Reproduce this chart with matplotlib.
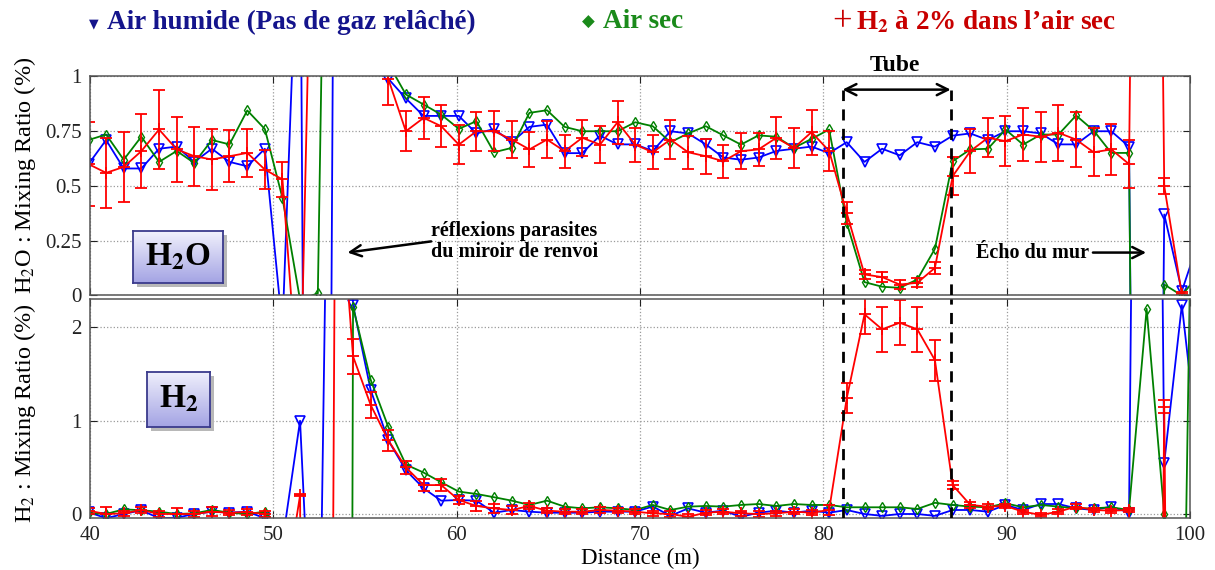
import numpy as np
import matplotlib
matplotlib.use("Agg")
import matplotlib.pyplot as plt
from matplotlib.colors import LinearSegmentedColormap

plt.rcParams['font.family'] = ['Liberation Serif', 'DejaVu Serif']
plt.rcParams['mathtext.fontset'] = 'stix'

# range bins (m)
distance = [39.91, 40.87, 41.83, 42.79, 43.76, 44.72, 45.68, 46.64, 47.60, 48.57,
            49.53, 50.49, 51.45, 52.42, 53.38, 54.34, 55.30, 56.26, 57.22, 58.19,
            59.15, 60.11, 61.07, 62.03, 63.00, 63.96, 64.92, 65.88, 66.84, 67.81,
            68.77, 69.73, 70.69, 71.65, 72.62, 73.58, 74.54, 75.50, 76.46, 77.43,
            78.39, 79.35, 80.31, 81.27, 82.24, 83.20, 84.16, 85.12, 86.08, 87.05,
            88.01, 88.97, 89.93, 90.89, 91.86, 92.82, 93.78, 94.74, 95.70, 96.67,
            97.63, 98.59, 99.55, 100.51]

# H2O mixing ratio (%)
h2o_humide = [0.60, 0.71, 0.58, 0.58, 0.67, 0.68, 0.61, 0.67, 0.61, 0.59,
              0.67, -0.15, 2.0, -11, 3.2, 2.0, 1.5, 0.99, 0.90, 0.82,
              0.82, 0.82, 0.74, 0.76, 0.70, 0.77, 0.78, 0.65, 0.65, 0.73,
              0.69, 0.69, 0.66, 0.75, 0.74, 0.69, 0.63, 0.62, 0.63, 0.66,
              0.67, 0.68, 0.65, 0.70, 0.61, 0.67, 0.64, 0.70, 0.68, 0.73,
              0.74, 0.71, 0.75, 0.75, 0.74, 0.69, 0.69, 0.75, 0.75, 0.68,
              -8, 0.37, 0.02, 0.26]
h2o_sec = [0.71, 0.735, 0.62, 0.725, 0.61, 0.66, 0.605, 0.71, 0.69, 0.845,
           0.76, 0.445, -0.02, 0.01, 5.0, 3.0, 2.0, 1.06, 0.918, 0.872,
           0.826, 0.761, 0.796, 0.654, 0.674, 0.834, 0.846, 0.770, 0.750, 0.750,
           0.750, 0.791, 0.773, 0.700, 0.740, 0.773, 0.731, 0.689, 0.731, 0.725,
           0.674, 0.715, 0.758, 0.332, 0.061, 0.040, 0.035, 0.073, 0.213, 0.613,
           0.667, 0.670, 0.758, 0.689, 0.735, 0.735, 0.822, 0.753, 0.651, 0.651,
           -8, 0.05, 0.0, 0.10]
h2o_h2 = [0.60, 0.56, 0.587, 0.659, 0.758, 0.667, 0.636, 0.621, 0.636, 0.651,
          0.575, 0.53, -0.55, 3.1, 3.0, 2.0, 1.5, 0.99, 0.75, 0.811,
          0.773, 0.689, 0.750, 0.750, 0.712, 0.667, 0.712, 0.659, 0.720, 0.689,
          0.791, 0.689, 0.654, 0.712, 0.654, 0.636, 0.613, 0.659, 0.667, 0.720,
          0.674, 0.746, 0.66, 0.377, 0.096, 0.084, 0.050, 0.058, 0.126, 0.545,
          0.659, 0.720, 0.705, 0.735, 0.725, 0.743, 0.712, 0.654, 0.667, 0.60,
          8.0, 0.50, 0.005, -0.3]
h2o_h2_err = [0.19, 0.16, 0.16, 0.17, 0.18, 0.15, 0.135, 0.14, 0.12, 0.11,
              0.09, 0.08, 0.08, 0.1, 0.1, 0.1, 0.1, 0.12, 0.092, 0.097,
              0.097, 0.089, 0.089, 0.091, 0.084, 0.08, 0.086, 0.075, 0.082, 0.084,
              0.099, 0.078, 0.078, 0.088, 0.076, 0.079, 0.076, 0.082, 0.076, 0.095,
              0.092, 0.103, 0.09, 0.05, 0.02, 0.023, 0.02, 0.02, 0.028, 0.086,
              0.10, 0.089, 0.115, 0.12, 0.114, 0.127, 0.127, 0.11, 0.116, 0.11,
              0.1, 0.035, 0.01, 0.05]

# H2 mixing ratio (%)
h2_humide = [0.02, -0.045, 0.0, 0.04, -0.045, -0.04, 0.0, 0.025, 0.015, 0.025,
             -0.045, -0.3, 1.0, -3, 10, 2.24, 1.33, 0.79, 0.47, 0.275,
             0.143, 0.15, 0.143, 0.014, 0.043, 0.025, 0.014, 0.014, 0.014, 0.025,
             0.025, 0.025, 0.08, -0.02, 0.06, 0.014, 0.036, -0.03, 0.014, 0.036,
             0.014, 0.036, 0.014, 0.043, 0.0, -0.02, 0.0, 0.0, -0.02, 0.043,
             0.043, 0.025, 0.097, 0.043, 0.107, 0.107, 0.061, 0.043, 0.079, 0.014,
             20, 0.55, 2.24, 0.58]
h2_sec = [0.01, 0.0, 0.05, 0.04, 0.025, 0.0, 0.007, 0.043, 0.014, 0.0,
          0.025, -0.2, -0.5, -1.0, -60, 2.22, 1.44, 0.935, 0.53, 0.444,
          0.34, 0.24, 0.215, 0.18, 0.143, 0.097, 0.143, 0.079, 0.061, 0.072,
          0.061, 0.043, 0.097, 0.043, 0.079, 0.086, 0.079, 0.097, 0.107, 0.086,
          0.107, 0.097, 0.097, 0.072, 0.072, 0.072, 0.072, 0.054, 0.12, 0.097,
          0.079, 0.072, 0.115, 0.072, 0.097, 0.079, 0.061, 0.061, 0.072, 0.043,
          2.2, 0.0, -3, 9]
h2_h2 = [0.035, 0.0, 0.007, 0.043, 0.0, 0.0, 0.0, 0.025, 0.014, 0.02,
         0.0, -1.0, 0.2, -30, 4.2, 1.69, 1.17, 0.79, 0.50, 0.31,
         0.31, 0.15, 0.086, 0.06, 0.043, 0.086, 0.036, 0.025, 0.025, 0.043,
         0.036, 0.025, 0.007, 0.0, -0.03, 0.014, 0.025, 0.007, 0.0, 0.007,
         0.025, 0.014, 0.043, 1.24, 2.14, 1.98, 2.05, 1.98, 1.65, 0.31,
         0.097, 0.079, 0.086, 0.025, -0.01, 0.025, 0.079, 0.043, 0.036, 0.043,
         -20, 1.15, -20, -20]
h2_h2_err = [0.03, 0.07, 0.03, 0.03, 0.03, 0.06, 0.03, 0.05, 0.03, 0.03,
             0.03, 0.03, 0.01, 0.05, 0.1, 0.19, 0.14, 0.11, 0.07, 0.06,
             0.06, 0.045, 0.05, 0.05, 0.04, 0.036, 0.03, 0.03, 0.03, 0.03,
             0.03, 0.03, 0.03, 0.03, 0.03, 0.03, 0.03, 0.03, 0.03, 0.03,
             0.03, 0.03, 0.05, 0.16, 0.21, 0.24, 0.24, 0.24, 0.22, 0.04,
             0.03, 0.03, 0.025, 0.02, 0.025, 0.025, 0.025, 0.02, 0.022, 0.02,
             0.05, 0.07, 0.05, 0.05]

tube = [81.04, 86.94]

BLUE, GREEN, RED = '#0000ff', '#008000', '#ff0000'


def plot_series(ax, hum, sec, h2, h2_err):
    ax.plot(distance, hum, '-', color=BLUE, lw=1.3, marker='v', ms=7,
            mfc='none', mew=1.2)
    ax.plot(distance, sec, '-', color=GREEN, lw=1.3, marker='d', ms=5.5,
            mfc='none', mew=1.0)
    ax.errorbar(distance, h2, yerr=h2_err, color=RED, lw=1.3, marker='+',
                ms=8, mew=1.3, elinewidth=1.3, capsize=4.5, capthick=1.3)


def style_axes(ax):
    ax.set_xlim(40, 100)
    ax.grid(True, linestyle=':', color='#9a9a9a', lw=0.9)
    ax.tick_params(direction='in', top=True, right=True, length=5,
                   labelsize=15, colors='#222222', pad=6)
    for s in ax.spines.values():
        s.set_color('#555555')
        s.set_linewidth(1.1)


def label_box(fig, rect, txt):
    sh = fig.add_axes([rect[0] + 0.003, rect[1] - 0.007, rect[2], rect[3]])
    sh.set_facecolor('#b8b8b8')
    sh.set_xticks([])
    sh.set_yticks([])
    for s in sh.spines.values():
        s.set_visible(False)
    bx = fig.add_axes(rect)
    cmap = LinearSegmentedColormap.from_list('box', ['#a4a4e4', '#f0f0fc'])
    bx.imshow(np.linspace(0, 1, 50).reshape(-1, 1)[::-1], cmap=cmap,
              aspect='auto', extent=[0, 1, 0, 1])
    bx.set_xticks([])
    bx.set_yticks([])
    for s in bx.spines.values():
        s.set_color('#3a3a8c')
        s.set_linewidth(1.3)
    bx.text(0.5, 0.5, txt, ha='center', va='center', fontsize=24,
            fontweight='bold', transform=bx.transAxes)


fig = plt.figure(figsize=(12.15, 5.7), dpi=100)
ax1 = fig.add_axes([0.0742, 0.4816, 0.9053, 0.3842])
ax2 = fig.add_axes([0.0742, 0.0912, 0.9053, 0.3851])

# --- H2O panel
plot_series(ax1, h2o_humide, h2o_sec, h2o_h2, h2o_h2_err)
style_axes(ax1)
ax1.set_ylim(0, 1)
ax1.set_yticks([0, 0.25, 0.5, 0.75, 1])
ax1.set_yticklabels(['0', '0.25', '0.5', '0.75', '1'])
ax1.set_xticks(range(40, 101, 10))
ax1.set_xticklabels([])
ax1.set_ylabel('H$_2$O : Mixing Ratio (%)', fontsize=17.5)
ax1.yaxis.set_label_coords(-0.047, 0.55)

for xt in tube:
    ax1.plot([xt, xt], [0, 0.94], color='k', lw=2, dashes=(4, 3), zorder=6)
ax1.annotate('', xy=(tube[0], 0.94), xytext=(tube[1], 0.94),
             arrowprops=dict(arrowstyle='<->', color='k', lw=1.8,
                             mutation_scale=20, shrinkA=0, shrinkB=0), zorder=7)
ax1.text(83.9, 1.05, 'Tube', ha='center', va='center', fontsize=17,
         fontweight='bold', clip_on=False)

ax1.annotate('', xy=(54.04, 0.196), xytext=(58.6, 0.247),
             arrowprops=dict(arrowstyle='->', color='k', lw=1.8,
                             mutation_scale=20, shrinkA=0, shrinkB=0))
ax1.text(63.15, 0.246, 'réflexions parasites\ndu miroir de renvoi',
         ha='center', va='center', fontsize=14.5, fontweight='bold',
         linespacing=1.1)
ax1.text(88.3, 0.196, 'Écho du mur', ha='left', va='center', fontsize=14.5,
         fontweight='bold')
ax1.annotate('', xy=(97.6, 0.196), xytext=(94.7, 0.196),
             arrowprops=dict(arrowstyle='->', color='k', lw=1.8,
                             mutation_scale=20, shrinkA=0, shrinkB=0))

# --- H2 panel
plot_series(ax2, h2_humide, h2_sec, h2_h2, h2_h2_err)
style_axes(ax2)
ax2.set_ylim(-0.043, 2.31)
ax2.set_yticks([0, 1, 2])
ax2.set_xticks(range(40, 101, 10))
ax2.set_xlabel('Distance (m)', fontsize=16.5, labelpad=2)
ax2.set_ylabel('H$_2$ : Mixing Ratio (%)', fontsize=17.5)
ax2.yaxis.set_label_coords(-0.047, 0.48)
for xt in tube:
    ax2.axvline(xt, color='k', lw=2, dashes=(4, 3), zorder=6)

label_box(fig, [0.1095, 0.5035, 0.074, 0.0912], r'H$_\mathbf{2}$O')
label_box(fig, [0.121, 0.2509, 0.0519, 0.0965], r'H$_\mathbf{2}$')

# --- legend row
ly = 1 - 22 / 570
fig.text(94 / 1215, ly - 0.004, '▼', color='#14148c', fontsize=9,
         ha='center', va='center', family='DejaVu Sans')
fig.text(107 / 1215, ly, 'Air humide (Pas de gaz relâché)', color='#14148c',
         fontsize=19.5, fontweight='bold', ha='left', va='center')
fig.text(588 / 1215, ly, '◆', color='#1a8a1a', fontsize=12, ha='center',
         va='center', family='DejaVu Sans')
fig.text(603 / 1215, ly, 'Air sec', color='#1a8a1a', fontsize=19.5,
         fontweight='bold', ha='left', va='center')
fig.text(842 / 1215, ly - 0.002, '+', color='#c80000', fontsize=25,
         ha='center', va='center')
fig.text(856 / 1215, ly, 'H$_\\mathbf{2}$ à 2% dans l’air sec', color='#c80000',
         fontsize=19.5, fontweight='bold', ha='left', va='center')

fig.savefig('out.png', dpi=100)
